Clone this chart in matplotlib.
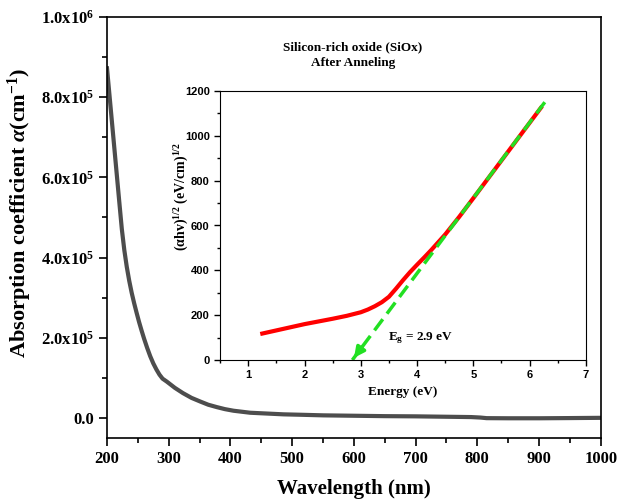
import matplotlib
matplotlib.use('Agg')
import matplotlib.pyplot as plt
from matplotlib.ticker import MultipleLocator, FixedLocator

plt.rcParams['font.family'] = 'Liberation Serif'
plt.rcParams['font.weight'] = 'bold'
plt.rcParams['mathtext.fontset'] = 'custom'
plt.rcParams['mathtext.rm'] = 'Liberation Serif:bold'
plt.rcParams['mathtext.bf'] = 'Liberation Serif:bold'
plt.rcParams['mathtext.it'] = 'Liberation Serif:bold:italic'
plt.rcParams['mathtext.default'] = 'regular'

# 吸收系数曲线数据
wavelength = [200, 204, 208, 212, 216, 220, 224, 228, 232, 236, 240, 244, 248, 252, 256,
              260, 265, 270, 275, 280, 285, 290, 297, 310, 323, 337, 351, 364, 378, 391,
              405, 432, 459, 486, 513, 550, 600, 650, 700, 750, 790, 805, 815, 850, 900,
              950, 1000]
alpha = [8.72e5, 8.05e5, 7.38e5, 6.71e5, 6.04e5, 5.37e5, 4.71e5, 4.19e5, 3.77e5, 3.42e5,
         3.12e5, 2.86e5, 2.62e5, 2.39e5, 2.18e5, 1.98e5, 1.75e5, 1.54e5, 1.36e5, 1.21e5,
         1.08e5, 0.98e5, 0.905e5, 0.75e5, 0.62e5, 0.5e5, 0.41e5, 0.33e5, 0.27e5, 0.22e5,
         0.18e5, 0.13e5, 0.11e5, 0.09e5, 0.08e5, 0.065e5, 0.055e5, 0.045e5, 0.04e5,
         0.03e5, 0.022e5, 0.01e5, -0.005e5, -0.008e5, -0.008e5, -0.003e5, 0.003e5]
y_ticks = [0, 2e5, 4e5, 6e5, 8e5, 1e6]
y_ticklabels = ['0.0', '2.0x10$^5$', '4.0x10$^5$', '6.0x10$^5$', '8.0x10$^5$', '1.0x10$^6$']

# Tauc 图数据
energy = [1.25, 1.5, 1.75, 2.0, 2.25, 2.5, 2.75, 3.0, 3.125, 3.25, 3.375, 3.5, 3.625,
          3.75, 3.875, 4.0, 4.125, 4.25, 4.5, 4.75, 5.0, 5.5, 6.0, 6.2]
tauc = [118, 132, 146, 160, 172, 184, 197, 213, 225, 240, 258, 282, 318, 356, 392, 425,
        457, 490, 560, 639, 722, 890, 1058, 1125]
fit_e = [6.27, 2.85]
fit_y = [1150, 0]

fig = plt.figure(figsize=(6.2, 5), dpi=100)
ax1 = fig.add_axes([0.1726, 0.124, 0.7964, 0.842])
ax1.plot(wavelength, alpha, color='#4d4d4d', lw=3)
ax1.set_xlim(200, 1000)
ax1.set_ylim(-5e4, 1e6)
ax1.xaxis.set_major_locator(MultipleLocator(100))
ax1.xaxis.set_minor_locator(MultipleLocator(50))
ax1.yaxis.set_major_locator(FixedLocator(y_ticks))
ax1.set_yticklabels(y_ticklabels)
ax1.yaxis.set_minor_locator(MultipleLocator(1e5))
ax1.tick_params(which='major', direction='out', length=6, width=1.2, labelsize=12)
ax1.tick_params(which='minor', direction='out', length=3.5, width=1.2)
for s in ax1.spines.values():
    s.set_linewidth(1.2)
ax1.set_xlabel('Wavelength (nm)', fontsize=15, fontweight='bold', labelpad=8.5)
ax1.set_ylabel(r'Absorption coefficient $\mathit{\alpha}$(cm$^{-1}$)', fontsize=16,
               fontweight='bold')
ax1.yaxis.set_label_coords(-0.148, 0.534)

fig.text(0.569, 0.906, 'Silicon-rich oxide (SiOx)', ha='center', va='center', fontsize=9.5)
fig.text(0.569, 0.874, 'After Anneling', ha='center', va='center', fontsize=9.5)

# 插图
ax2 = fig.add_axes([0.355, 0.28, 0.590, 0.538])
ax2.plot(energy, tauc, color='red', lw=3)
ax2.plot(fit_e, fit_y, color='#22e022', lw=2.5, ls=(0, (4, 2)))
ax2.annotate('', xy=(fit_e[1], fit_y[1]), xytext=(3.05, 68),
             arrowprops=dict(arrowstyle='-|>', color='#22e022', lw=2.5, mutation_scale=15))
ax2.set_xlim(0.5, 7)
ax2.set_ylim(0, 1200)
ax2.xaxis.set_major_locator(MultipleLocator(1))
ax2.xaxis.set_minor_locator(MultipleLocator(0.5))
ax2.yaxis.set_major_locator(MultipleLocator(200))
ax2.yaxis.set_minor_locator(MultipleLocator(100))
ax2.tick_params(which='major', direction='out', length=4, width=1, labelsize=8)
ax2.tick_params(which='minor', direction='out', length=2.5, width=1)
for lab in ax2.get_xticklabels() + ax2.get_yticklabels():
    lab.set_fontfamily('Liberation Sans')
    lab.set_fontweight('bold')
ax2.set_xlabel('Energy (eV)', fontsize=9.5, fontweight='bold')
ax2.set_ylabel(r'($\alpha$hv)$^{1/2}$ (eV/cm)$^{1/2}$', fontsize=10, fontweight='bold')
ax2.yaxis.set_label_coords(-0.079, 0.608)
ax2.text(3.48, 98, r'E$_g$ = 2.9 eV', va='center', fontsize=9.5)

plt.savefig('out.png', dpi=100)
